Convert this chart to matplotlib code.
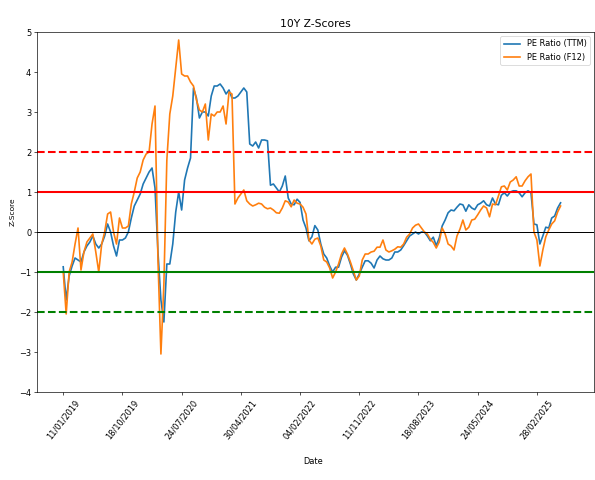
import numpy as np
import pandas as pd
import matplotlib
matplotlib.use("Agg")
import matplotlib.pyplot as plt
import matplotlib.dates as mdates

# biweekly z-scores
dates = pd.date_range("2019-01-11", periods=169, freq="14D")

pe_ttm = [
    -0.87, -1.7, -1.1, -0.85, -0.65, -0.7, -0.75, -0.5, -0.35, -0.25,
    -0.1, -0.3, -0.4, -0.3, -0.1, 0.2, 0.0, -0.35, -0.6, -0.2,
    -0.2, -0.15, 0.0, 0.35, 0.65, 0.8, 0.95, 1.2, 1.35, 1.5,
    1.6, 1.1, -0.5, -1.7, -2.25, -0.8, -0.8, -0.3, 0.5, 1.0,
    0.55, 1.3, 1.6, 1.85, 3.6, 3.35, 2.85, 3.0, 3.0, 2.9,
    3.4, 3.65, 3.65, 3.7, 3.6, 3.45, 3.55, 3.35, 3.35, 3.4,
    3.5, 3.6, 3.5, 2.2, 2.15, 2.25, 2.1, 2.3, 2.3, 2.28,
    1.17, 1.2, 1.1, 1.0, 1.15, 1.4, 0.85, 0.7, 0.68, 0.82,
    0.74, 0.3, 0.1, -0.22, -0.12, 0.16, 0.05, -0.3, -0.55, -0.65,
    -0.85, -1.0, -0.88, -0.88, -0.63, -0.47, -0.58, -0.8, -1.05, -1.2,
    -1.05, -0.88, -0.72, -0.72, -0.78, -0.9, -0.7, -0.6, -0.67, -0.7,
    -0.7, -0.65, -0.5, -0.5, -0.45, -0.34, -0.22, -0.1, -0.05, 0.0,
    -0.05, 0.0, 0.0, -0.1, -0.22, -0.13, -0.34, -0.15, 0.15, 0.3,
    0.48, 0.55, 0.53, 0.62, 0.7, 0.68, 0.52, 0.68, 0.6, 0.56,
    0.68, 0.72, 0.78, 0.68, 0.65, 0.85, 0.7, 0.68, 0.92, 0.98,
    0.9, 1.0, 1.03, 1.03, 0.98, 0.88, 0.98, 1.03, 0.98, 0.2,
    0.18, -0.3, -0.1, 0.12, 0.1, 0.35, 0.4, 0.6, 0.73,
]

pe_f12 = [
    -1.0, -2.05, -1.0, -0.75, -0.3, 0.1, -0.95, -0.5, -0.25, -0.15,
    -0.05, -0.5, -1.0, -0.3, 0.0, 0.45, 0.5, 0.0, -0.3, 0.35,
    0.1, 0.1, 0.15, 0.7, 1.0, 1.35, 1.5, 1.8, 1.95, 2.0,
    2.7, 3.15, -0.7, -3.05, -1.3, 1.8, 2.95, 3.4, 4.1, 4.8,
    3.95, 3.9, 3.9, 3.75, 3.65, 3.3, 3.05, 3.0, 3.2, 2.3,
    2.95, 2.9, 3.0, 3.0, 3.15, 2.7, 3.5, 3.45, 0.7, 0.85,
    0.95, 1.05, 0.78, 0.7, 0.65, 0.68, 0.72, 0.7, 0.62, 0.58,
    0.6, 0.55, 0.48, 0.47, 0.6, 0.78, 0.75, 0.63, 0.8, 0.72,
    0.7, 0.62, 0.45, -0.2, -0.3, -0.18, -0.15, -0.35, -0.7, -0.75,
    -0.9, -1.15, -1.0, -0.8, -0.55, -0.4, -0.55, -0.75, -0.97, -1.2,
    -1.1, -0.7, -0.55, -0.55, -0.5, -0.48, -0.38, -0.38, -0.2, -0.45,
    -0.5, -0.47, -0.43, -0.37, -0.38, -0.3, -0.13, -0.05, 0.1, 0.17,
    0.2, 0.1, 0.0, -0.05, -0.18, -0.26, -0.4, -0.25, 0.1, -0.05,
    -0.3, -0.35, -0.45, -0.1, 0.07, 0.3, 0.05, 0.12, 0.3, 0.32,
    0.43, 0.55, 0.65, 0.6, 0.38, 0.7, 0.68, 0.9, 1.13, 1.15,
    1.05, 1.25, 1.3, 1.38, 1.15, 1.15, 1.28, 1.38, 1.45, 0.0,
    -0.2, -0.85, -0.45, -0.12, 0.05, 0.2, 0.28, 0.5, 0.65,
]

fig = plt.figure(figsize=(10, 480 / 59.5), dpi=59.5)
ax = fig.add_axes([37 / 595, 1 - 392 / 480, 557 / 595, 360 / 480])

ax.plot(dates, pe_ttm, label="PE Ratio (TTM)", color="#1f77b4", lw=2)
ax.plot(dates, pe_f12, label="PE Ratio (F12)", color="#ff7f0e", lw=2)

ax.axhline(2, color="red", ls="--", lw=2.5)
ax.axhline(1, color="red", lw=2.5)
ax.axhline(0, color="black", lw=1.2)
ax.axhline(-1, color="green", lw=2.5)
ax.axhline(-2, color="green", ls="--", lw=2.5)

ax.set_ylim(-4, 5)
ax.set_xlim(dates[0] - pd.Timedelta(days=124), dates[0] + pd.Timedelta(days=2510))
ax.set_xticks(dates[::20])
ax.xaxis.set_major_formatter(mdates.DateFormatter("%d/%m/%Y"))
plt.setp(ax.get_xticklabels(), rotation=52)

ax.set_title("10Y Z-Scores", fontsize=13)
ax.set_xlabel("Date")
ax.set_ylabel("Z-Score", fontsize=9)
ax.xaxis.set_label_coords(0.495, -0.18)
ax.legend(loc="upper right")

fig.savefig("out.png", dpi=59.5)
